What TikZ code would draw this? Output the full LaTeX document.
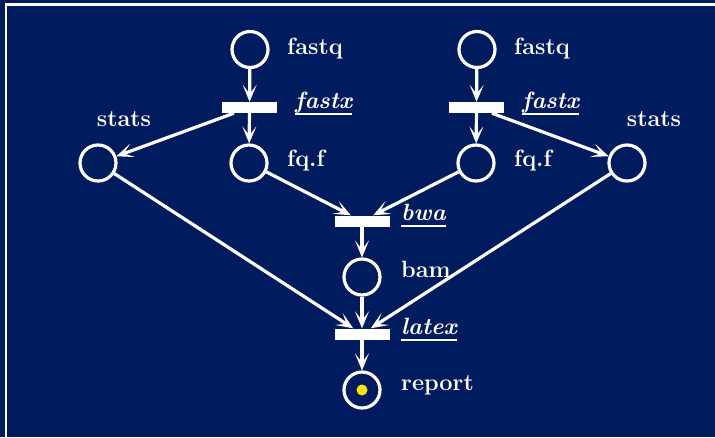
\documentclass[tikz,border=0pt]{standalone}
\usetikzlibrary{arrows.meta}
\definecolor{bgnavy}{RGB}{0,28,94}
\definecolor{dotyel}{RGB}{255,230,0}
\newcommand\myul[1]{\setbox0\hbox{#1}\rlap{\copy0}\rule[-7pt]{\wd0}{1.7pt}}
\begin{document}
\begin{tikzpicture}[x=1pt,y=-1pt,
  place/.style={circle,draw=white,line width=3.2pt,minimum size=36pt,inner sep=0pt},
  trans/.style={rectangle,fill=white,minimum width=55pt,minimum height=11pt,inner sep=0pt},
  lbl/.style={text=white,font=\fontsize{23.5}{27}\selectfont\bfseries,inner sep=0pt,anchor=base west},
  tlbl/.style={lbl,font=\fontsize{23.5}{27}\selectfont\bfseries\itshape},
  clbl/.style={lbl,anchor=base},
  arc/.style={draw=white,line width=3.2pt,-{Stealth[length=17pt,width=14pt,inset=9pt]}}]
\fill[bgnavy] (0,0) rectangle (715,437);
\useasboundingbox (0,0) rectangle (715,437);
\draw[white,line width=2.4pt] (6,437) -- (6,4.3) -- (715,4.3);
% places
\node[place] (fq1) at (250,49.5) {};
\node[place] (fq2) at (477,49.5) {};
\node[place] (ff1) at (249,163) {};
\node[place] (ff2) at (476,163) {};
\node[place] (st1) at (98,163) {};
\node[place] (st2) at (627,163) {};
\node[place] (bam) at (362,277) {};
\node[place] (rep) at (362,390) {};
\fill[dotyel] (rep.center) circle (5.5pt);
% transitions
\node[trans] (fx1) at (249.5,107.5) {};
\node[trans] (fx2) at (476.5,107.5) {};
\node[trans] (bwa) at (362,221) {};
\node[trans] (ltx) at (362,334) {};
% labels
\node[lbl] (lfq1) at (287,54) {fastq};
\node[lbl] (lfq2) at (514,54) {fastq};
\node[tlbl] (lfx1) at (295,108) {\myul{fastx}};
\node[tlbl] (lfx2) at (522,108) {\myul{fastx}};
\node[clbl] (lst1) at (124,126) {stats};
\node[clbl] (lst2) at (654,126) {stats};
\node[lbl] (lff1) at (287,166) {fq.f};
\node[lbl] (lff2) at (514,166) {fq.f};
\node[tlbl] (lbwa) at (401,220) {\myul{bwa}};
\node[lbl] (lbam) at (401,277) {bam};
\node[tlbl] (lltx) at (401,334) {\myul{latex}};
\node[lbl] (lrep) at (401,390) {report};
% arcs
\draw[arc] (fq1) -- (fx1);
\draw[arc] (fx1) -- (ff1);
\draw[arc] (fx1) -- (st1);
\draw[arc] (fq2) -- (fx2);
\draw[arc] (fx2) -- (ff2);
\draw[arc] (fx2) -- (st2);
\draw[arc] (ff1) -- (bwa);
\draw[arc] (ff2) -- (bwa);
\draw[arc] (bwa) -- (bam);
\draw[arc] (bam) -- (ltx);
\draw[arc] (st1) -- (ltx);
\draw[arc] (st2) -- (ltx);
\draw[arc] (ltx) -- (rep);
\end{tikzpicture}
\end{document}
